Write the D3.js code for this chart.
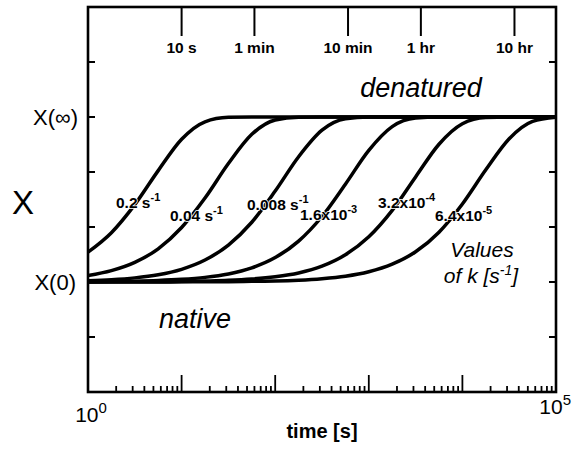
<!DOCTYPE html>
<html>
<head>
<meta charset="utf-8">
<script src="https://cdn.jsdelivr.net/npm/d3@7"></script>
<style>
  body { margin: 0; background: #fff; }
  svg { display: block; font-family: "Liberation Sans", Arial, sans-serif; }
</style>
</head>
<body>
<div id="chart"></div>
<script>
// sample times, as log10(t [s])
const logT = [0, 0.25, 0.5, 0.75, 1, 1.25, 1.5, 1.75, 2, 2.25, 2.5, 2.75, 3, 3.25, 3.5, 3.75, 4, 4.25, 4.5, 4.75, 5];

// rate constants k [s^-1] and fraction converted (0 = X(0), 1 = X(inf))
const rateLabels = ['0.2 s|-1', '0.04 s|-1', '0.008 s|-1', '1.6x10|-3', '3.2x10|-4', '6.4x10|-5'];
const curveK1 = [0.181, 0.299, 0.469, 0.675, 0.865, 0.971, 0.998, 1, 1, 1, 1, 1, 1, 1, 1, 1, 1, 1, 1, 1, 1];
const curveK2 = [0.039, 0.069, 0.119, 0.201, 0.330, 0.509, 0.718, 0.895, 0.982, 0.999, 1, 1, 1, 1, 1, 1, 1, 1, 1, 1, 1];
const curveK3 = [0.008, 0.014, 0.025, 0.044, 0.077, 0.133, 0.224, 0.362, 0.551, 0.759, 0.920, 0.989, 1, 1, 1, 1, 1, 1, 1, 1, 1];
const curveK4 = [0.002, 0.003, 0.005, 0.009, 0.016, 0.028, 0.049, 0.086, 0.148, 0.248, 0.397, 0.593, 0.798, 0.942, 0.994, 1, 1, 1, 1, 1, 1];
const curveK5 = [0.000, 0.001, 0.001, 0.002, 0.003, 0.006, 0.010, 0.018, 0.032, 0.055, 0.096, 0.165, 0.274, 0.434, 0.637, 0.835, 0.959, 0.997, 1, 1, 1];
const curveK6 = [0.000, 0.000, 0.000, 0.000, 0.001, 0.001, 0.002, 0.004, 0.006, 0.011, 0.020, 0.035, 0.062, 0.108, 0.183, 0.302, 0.473, 0.680, 0.868, 0.973, 0.998];

// clock-time marks on the top axis
const topTickLabels = ['10 s', '1 min', '10 min', '1 hr', '10 hr'];
const topTickSeconds = [10, 60, 600, 3600, 36000];

const yTicks = [-1 / 3, 0, 1 / 3, 2 / 3, 1, 4 / 3];

const svgWidth = 573, svgHeight = 449;
const margin = { top: 7, right: 17, bottom: 57, left: 88 };
const width = svgWidth - margin.left - margin.right;
const height = svgHeight - margin.top - margin.bottom;

const svg = d3.select('#chart')
  .append('svg')
  .attr('width', svgWidth)
  .attr('height', svgHeight);

const g = svg.append('g')
  .attr('transform', `translate(${margin.left},${margin.top})`);

const x = d3.scaleLog().domain([1, 1e5]).range([0, width]);
const y = d3.scaleLinear().domain([-2 / 3, 5 / 3]).range([height, 0]);

g.append('clipPath').attr('id', 'clip')
  .append('rect').attr('width', width).attr('height', height);

// curves
const curves = [curveK1, curveK2, curveK3, curveK4, curveK5, curveK6];
const line = d3.line()
  .x((d, i) => x(Math.pow(10, logT[i])))
  .y(d => y(d))
  .curve(d3.curveMonotoneX);

g.append('g')
  .attr('clip-path', 'url(#clip)')
  .selectAll('path')
  .data(curves)
  .join('path')
  .attr('d', line)
  .attr('fill', 'none')
  .attr('stroke', '#000')
  .attr('stroke-width', 3.5);

// bottom log ticks (pointing inward)
const minorTicks = x.ticks().filter(t => t > 1 && t < 1e5);
g.append('g')
  .selectAll('line')
  .data(minorTicks)
  .join('line')
  .attr('x1', d => x(d)).attr('x2', d => x(d))
  .attr('y1', height)
  .attr('y2', d => Math.abs(Math.log10(d) - Math.round(Math.log10(d))) < 1e-9 ? height - 17 : height - 6)
  .attr('stroke', '#000')
  .attr('stroke-width', 1.8);

// top clock ticks
const topAxis = g.append('g');
topAxis.selectAll('line')
  .data(topTickSeconds)
  .join('line')
  .attr('x1', d => x(d)).attr('x2', d => x(d))
  .attr('y1', 0).attr('y2', 29)
  .attr('stroke', '#000')
  .attr('stroke-width', 2);
topAxis.selectAll('text')
  .data(topTickLabels)
  .join('text')
  .attr('x', (d, i) => x(topTickSeconds[i]))
  .attr('y', 46)
  .attr('text-anchor', 'middle')
  .attr('font-size', 15.5)
  .attr('font-weight', 'bold')
  .text(d => d);

// y ticks, both sides inward
['left', 'right'].forEach(side => {
  g.append('g')
    .selectAll('line')
    .data(yTicks)
    .join('line')
    .attr('x1', side === 'left' ? 0 : width)
    .attr('x2', side === 'left' ? 7 : width - 7)
    .attr('y1', d => y(d)).attr('y2', d => y(d))
    .attr('stroke', '#000')
    .attr('stroke-width', 2);
});

// frame
g.append('rect')
  .attr('width', width)
  .attr('height', height)
  .attr('fill', 'none')
  .attr('stroke', '#000')
  .attr('stroke-width', 2.6);

// y labels
g.append('text')
  .attr('x', -10).attr('y', y(1) + 8)
  .attr('text-anchor', 'end')
  .attr('font-size', 22)
  .text('X(∞)');
g.append('text')
  .attr('x', -12).attr('y', y(0) + 8)
  .attr('text-anchor', 'end')
  .attr('font-size', 22)
  .text('X(0)');
svg.append('text')
  .attr('x', 23).attr('y', 214)
  .attr('text-anchor', 'middle')
  .attr('font-size', 33)
  .text('X');

// x end labels
function powerLabel(parent, px, py, exp, anchor) {
  const t = parent.append('text')
    .attr('x', px).attr('y', py)
    .attr('text-anchor', anchor)
    .attr('font-size', 21);
  t.append('tspan').text('10');
  t.append('tspan').attr('dy', -9).attr('font-size', 15).text(exp);
}
powerLabel(svg, 91, 422, '0', 'middle');
powerLabel(svg, 571, 414, '5', 'end');

svg.append('text')
  .attr('x', margin.left + width / 2).attr('y', 438)
  .attr('text-anchor', 'middle')
  .attr('font-size', 20)
  .attr('font-weight', 'bold')
  .text('time [s]');

// state labels
svg.append('text')
  .attr('x', 421).attr('y', 97)
  .attr('text-anchor', 'middle')
  .attr('font-size', 27)
  .attr('font-style', 'italic')
  .text('denatured');
svg.append('text')
  .attr('x', 195).attr('y', 328)
  .attr('text-anchor', 'middle')
  .attr('font-size', 27)
  .attr('font-style', 'italic')
  .text('native');

// curve labels
const labelPos = [[116, 208], [170, 221], [247, 210], [300, 220], [378, 208], [435, 221]];
rateLabels.forEach((lab, i) => {
  const [base, sup] = lab.split('|');
  const t = svg.append('text')
    .attr('x', labelPos[i][0]).attr('y', labelPos[i][1])
    .attr('font-size', 15.5)
    .attr('font-weight', 'bold')
    .attr('stroke', '#fff')
    .attr('stroke-width', 1.6)
    .attr('paint-order', 'stroke');
  t.append('tspan').text(base);
  t.append('tspan').attr('dy', -7).attr('font-size', 11).text(sup);
});

// legend note
const note = svg.append('text')
  .attr('font-size', 21)
  .attr('font-style', 'italic')
  .attr('text-anchor', 'middle');
note.append('tspan').attr('x', 482).attr('y', 257).text('Values');
const l2 = svg.append('text')
  .attr('font-size', 21)
  .attr('font-style', 'italic')
  .attr('text-anchor', 'middle')
  .attr('x', 481).attr('y', 283);
l2.append('tspan').text('of k [s');
l2.append('tspan').attr('dy', -8).attr('font-size', 14).text('-1');
l2.append('tspan').attr('dy', 8).text(']');
</script>
</body>
</html>
